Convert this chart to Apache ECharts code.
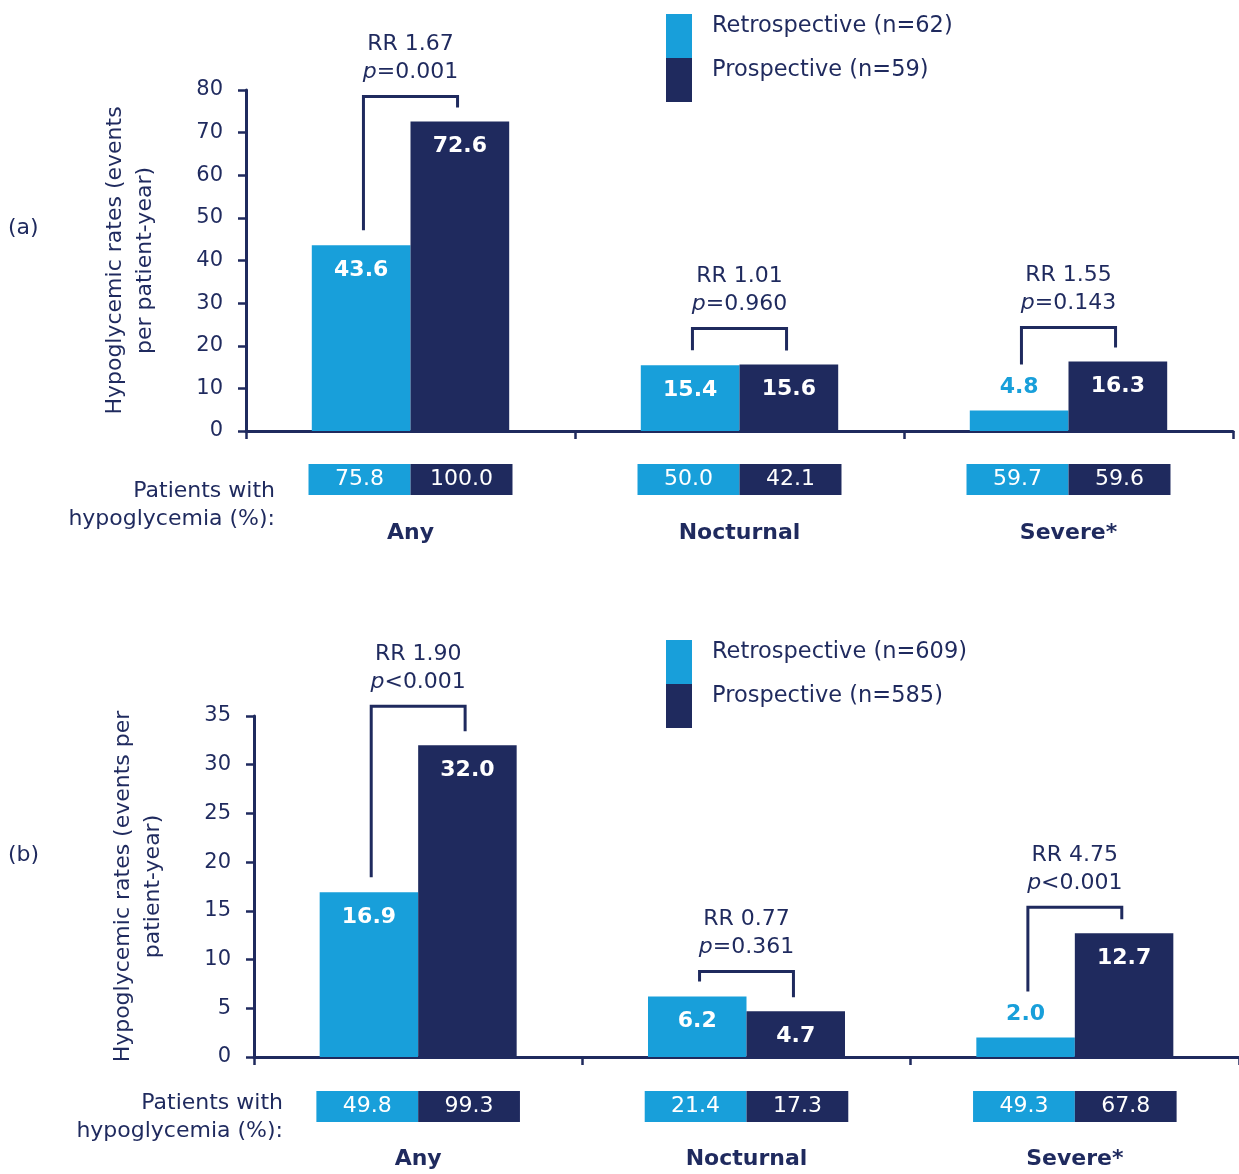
<!DOCTYPE html>
<html><head><meta charset="utf-8">
<script src="https://cdn.jsdelivr.net/npm/echarts@6/dist/echarts.min.js"></script>
<style>html,body{margin:0;padding:0;background:#fff}#c{width:1239px;height:1174px}</style>
</head><body><div id="c"></div>
<script>
// ---------- DATA ----------
const categories = ['Any', 'Nocturnal', 'Severe*'];

const seriesNamesA = ['Retrospective (n=62)', 'Prospective (n=59)'];
const retroRateA = [43.6, 15.4, 4.8];
const prospRateA = [72.6, 15.6, 16.3];
const retroPctA = [75.8, 50.0, 59.7];
const prospPctA = [100.0, 42.1, 59.6];
const rrA = ['1.67', '1.01', '1.55'];
const pA = ['=0.001', '=0.960', '=0.143'];
const yAxisA = { min: 0, max: 80, interval: 10 };

const seriesNamesB = ['Retrospective (n=609)', 'Prospective (n=585)'];
const retroRateB = [16.9, 6.2, 2.0];
const prospRateB = [32.0, 4.7, 12.7];
const retroPctB = [49.8, 21.4, 49.3];
const prospPctB = [99.3, 17.3, 67.8];
const rrB = ['1.90', '0.77', '4.75'];
const pB = ['<0.001', '=0.361', '<0.001'];
const yAxisB = { min: 0, max: 35, interval: 5 };

// ---------- STYLE ----------
const LIGHT = '#189fda';
const NAVY = '#1f2a5e';
const FONT = 'DejaVu Sans';
const bracketLiftA = [25, 36, 34];
const bracketLiftB = [39, 25, 26];

function rateData(vals, max, color) {
  return vals.map(v => (v / max < 0.1)
    ? { value: v, label: { position: 'top', distance: 12, color: color } }
    : v);
}

function mainBar(name, vals, max, color, xi, yi) {
  return {
    type: 'bar', name: name, xAxisIndex: xi, yAxisIndex: yi,
    data: rateData(vals, max, color), barGap: 0, barCategoryGap: '40%',
    itemStyle: { color: color }, z: 2,
    label: {
      show: true, position: 'insideTop', distance: 14, color: '#fff',
      fontWeight: 'bold', fontSize: 22, fontFamily: FONT,
      formatter: p => p.value.toFixed(1)
    }
  };
}

function boxBar(name, pcts, color, xi, yi) {
  return {
    type: 'bar', name: name, xAxisIndex: xi, yAxisIndex: yi,
    data: pcts.map(() => 1), barGap: 0, barCategoryGap: '38%',
    itemStyle: { color: color },
    label: {
      show: true, position: 'inside', color: '#fff', fontSize: 22, fontFamily: FONT,
      formatter: p => pcts[p.dataIndex].toFixed(1)
    }
  };
}

function bracketSeries(xi, yi, retro, prosp, rr, pv, lift, yMax) {
  return {
    type: 'custom', xAxisIndex: xi, yAxisIndex: yi, clip: false, silent: true, z: 10,
    data: categories.map((c, i) => [i, retro[i], prosp[i]]),
    renderItem(params, api) {
      const i = api.value(0);
      const c = api.coord([i, 0]);
      const band = api.size([1, 0])[0];
      const xl = c[0] - band * 0.143, xr = c[0] + band * 0.143;
      const yR = api.coord([i, api.value(1)])[1];
      const yP = api.coord([i, api.value(2)])[1];
      const outR = api.value(1) / yMax < 0.1;
      const legR = yR - (outR ? 46 : 15);
      const legP = yP - 14;
      const top = Math.min(yR, yP) - lift[i];
      return {
        type: 'group', children: [
          { type: 'polyline', shape: { points: [[xl, legR], [xl, top], [xr, top], [xr, legP]] },
            style: { stroke: NAVY, lineWidth: 3, fill: null } },
          { type: 'text', x: (xl + xr) / 2, y: top - 10,
            style: {
              text: 'RR ' + rr[i] + '\n{i|p}{n|' + pv[i] + '}',
              fill: NAVY, fontSize: 22, fontFamily: FONT, lineHeight: 28,
              align: 'center', verticalAlign: 'bottom',
              rich: {
                i: { fontStyle: 'italic', fontSize: 22, fontFamily: FONT, fill: NAVY, lineHeight: 28 },
                n: { fontSize: 22, fontFamily: FONT, fill: NAVY, lineHeight: 28 }
              }
            } }
        ]
      };
    }
  };
}

function mainX(gi) {
  return {
    type: 'category', gridIndex: gi, data: categories,
    axisLine: { lineStyle: { color: NAVY, width: 3 } },
    axisTick: { show: true, length: 8, interval: 0, lineStyle: { color: NAVY, width: 2.5 } },
    axisLabel: { show: false }
  };
}
function boxX(gi, margin) {
  return {
    type: 'category', gridIndex: gi, data: categories,
    axisLine: { show: false }, axisTick: { show: false },
    axisLabel: { show: true, interval: 0, margin: margin, color: NAVY, fontWeight: 'bold', fontSize: 22, fontFamily: FONT }
  };
}
function mainY(gi, cfg, name) {
  return {
    type: 'value', gridIndex: gi, min: cfg.min, max: cfg.max, interval: cfg.interval,
    name: name, nameLocation: 'middle', nameGap: 86, nameRotate: 90,
    nameTextStyle: { color: NAVY, fontSize: 22, fontFamily: FONT, lineHeight: 30 },
    axisLine: { show: true, lineStyle: { color: NAVY, width: 3 } },
    axisTick: { show: true, length: 8, lineStyle: { color: NAVY, width: 2.5 } },
    axisLabel: { color: NAVY, fontSize: 21, fontFamily: FONT, margin: 23 },
    splitLine: { show: false }
  };
}
function boxY(gi) {
  return { type: 'value', gridIndex: gi, min: 0, max: 1, show: false };
}
function legendCfg(names, top) {
  return {
    data: names, left: 666, top: top, orient: 'vertical', icon: 'rect',
    itemWidth: 26, itemHeight: 44, itemGap: 0, selectedMode: false, padding: 0,
    formatter: n => '{t|' + n + '}\n{s| }',
    textStyle: {
      color: NAVY, fontSize: 22, fontFamily: FONT, padding: [0, 0, 0, 15],
      rich: {
        t: { color: NAVY, fontSize: 22.5, fontFamily: FONT, lineHeight: 24 },
        s: { fontSize: 10, lineHeight: 20 }
      }
    }
  };
}

const option = {
  animation: false,
  backgroundColor: '#fff',
  textStyle: { fontFamily: FONT },
  grid: [
    { left: 246, width: 987, top: 90, height: 341 },
    { left: 246, width: 987, top: 464, height: 31 },
    { left: 254, width: 987, top: 716, height: 341 },
    { left: 254, width: 987, top: 1091, height: 31 }
  ],
  xAxis: [mainX(0), boxX(1, 27), mainX(2), boxX(3, 26)],
  yAxis: [
    mainY(0, yAxisA, 'Hypoglycemic rates (events\nper patient-year)'),
    boxY(1),
    mainY(2, yAxisB, 'Hypoglycemic rates (events per\npatient-year)'),
    boxY(3)
  ],
  legend: [legendCfg(seriesNamesA, 14), legendCfg(seriesNamesB, 640)],
  series: [
    mainBar(seriesNamesA[0], retroRateA, yAxisA.max, LIGHT, 0, 0),
    mainBar(seriesNamesA[1], prospRateA, yAxisA.max, NAVY, 0, 0),
    boxBar('pctA-retro', retroPctA, LIGHT, 1, 1),
    boxBar('pctA-prosp', prospPctA, NAVY, 1, 1),
    bracketSeries(0, 0, retroRateA, prospRateA, rrA, pA, bracketLiftA, yAxisA.max),
    mainBar(seriesNamesB[0], retroRateB, yAxisB.max, LIGHT, 2, 2),
    mainBar(seriesNamesB[1], prospRateB, yAxisB.max, NAVY, 2, 2),
    boxBar('pctB-retro', retroPctB, LIGHT, 3, 3),
    boxBar('pctB-prosp', prospPctB, NAVY, 3, 3),
    bracketSeries(2, 2, retroRateB, prospRateB, rrB, pB, bracketLiftB, yAxisB.max)
  ],
  graphic: [
    { type: 'text', x: 8, y: 228, style: { text: '(a)', fill: NAVY, fontSize: 22, fontFamily: FONT, verticalAlign: 'middle' } },
    { type: 'text', x: 8, y: 855, style: { text: '(b)', fill: NAVY, fontSize: 22, fontFamily: FONT, verticalAlign: 'middle' } },
    { type: 'text', x: 275, y: 505, style: { text: 'Patients with\nhypoglycemia (%):', fill: NAVY, fontSize: 22, fontFamily: FONT, lineHeight: 28, align: 'right', verticalAlign: 'middle' } },
    { type: 'text', x: 283, y: 1117, style: { text: 'Patients with\nhypoglycemia (%):', fill: NAVY, fontSize: 22, fontFamily: FONT, lineHeight: 28, align: 'right', verticalAlign: 'middle' } }
  ]
};

const chart = echarts.init(document.getElementById('c'), null, { renderer: 'canvas' });
chart.setOption(option);
</script>
</body></html>
